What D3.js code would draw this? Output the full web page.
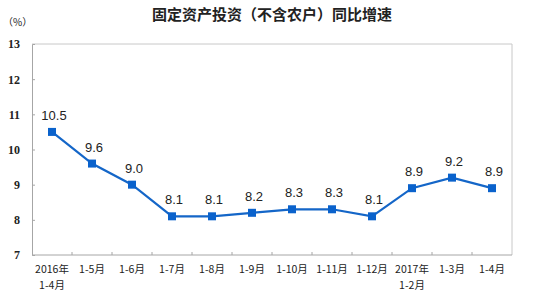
<!DOCTYPE html>
<html>
<head>
<meta charset="utf-8">
<script src="https://cdn.jsdelivr.net/npm/d3@7"></script>
<style>
  body { margin: 0; background: #fff; }
  svg { display: block; }
</style>
</head>
<body>
<div id="chart"></div>
<script>
// chart data
const categories = ['2016年\n1-4月', '1-5月', '1-6月', '1-7月', '1-8月', '1-9月', '1-10月', '1-11月', '1-12月', '2017年\n1-2月', '1-3月', '1-4月'];
const growth = [10.5, 9.6, 9.0, 8.1, 8.1, 8.2, 8.3, 8.3, 8.1, 8.9, 9.2, 8.9];
const yTicks = [7, 8, 9, 10, 11, 12, 13];
const title = '固定资产投资（不含农户）同比增速';

const width = 536, height = 299;
const margin = { top: 44, right: 24, bottom: 44, left: 32 };

const svg = d3.select('#chart')
  .append('svg')
  .attr('width', width)
  .attr('height', height);

const x = d3.scaleBand()
  .domain(categories)
  .range([margin.left, width - margin.right]);

const y = d3.scaleLinear()
  .domain([7, 13])
  .range([height - margin.bottom, margin.top]);

// title and unit
svg.append('text')
  .attr('x', 272).attr('y', 20)
  .attr('text-anchor', 'middle')
  .style('font', 'bold 15px "Noto Sans CJK SC", sans-serif')
  .attr('fill', '#222')
  .text(title);

svg.append('text')
  .attr('x', 3).attr('y', 26)
  .style('font', '10px "Noto Sans CJK SC", sans-serif')
  .attr('fill', '#222')
  .text('（%）');

// plot frame (top and right)
svg.append('path')
  .attr('d', `M${margin.left},${margin.top}H${width - margin.right}V${height - margin.bottom}`)
  .attr('fill', 'none')
  .attr('stroke', '#c8c8c8');

// y axis
const yAxis = svg.append('g')
  .attr('transform', `translate(${margin.left},0)`)
  .call(d3.axisLeft(y).tickValues(yTicks).tickSize(-3).tickPadding(12).tickFormat(d3.format('d')));
yAxis.select('.domain').attr('stroke', '#a6a6a6');
yAxis.selectAll('.tick line').attr('stroke', '#a6a6a6');
yAxis.selectAll('.tick line').filter(d => d === 7 || d === 13).remove();
yAxis.selectAll('text')
  .style('font', 'bold 12px "Liberation Serif", serif')
  .attr('fill', '#222');

// x axis with ticks at band edges
const xAxis = svg.append('g')
  .attr('transform', `translate(0,${height - margin.bottom})`);
xAxis.append('line')
  .attr('x1', margin.left).attr('x2', width - margin.right)
  .attr('stroke', '#a6a6a6');
xAxis.selectAll('line.tk')
  .data(categories.slice(1))
  .enter()
  .append('line')
  .attr('class', 'tk')
  .attr('x1', d => x(d)).attr('x2', d => x(d))
  .attr('y1', 0).attr('y2', -3)
  .attr('stroke', '#a6a6a6');

// each label line is its own text element
const labelLines = categories.flatMap(c =>
  c.split('\n').map((l, i) => ({ cat: c, text: l, row: i })));

xAxis.selectAll('text')
  .data(labelLines)
  .enter()
  .append('text')
  .attr('x', d => x(d.cat) + x.bandwidth() / 2)
  .attr('y', d => 18 + d.row * 16)
  .attr('text-anchor', 'middle')
  .style('font', '10.5px "Noto Sans CJK SC", sans-serif')
  .attr('fill', '#222')
  .text(d => d.text);

// line
const line = d3.line()
  .x((d, i) => x(categories[i]) + x.bandwidth() / 2)
  .y(d => y(d));

svg.append('path')
  .datum(growth)
  .attr('d', line)
  .attr('fill', 'none')
  .attr('stroke', '#1466c8')
  .attr('stroke-width', 2.2);

// markers
const s = 8;
svg.selectAll('rect.pt')
  .data(growth)
  .enter()
  .append('rect')
  .attr('class', 'pt')
  .attr('x', (d, i) => x(categories[i]) + x.bandwidth() / 2 - s / 2)
  .attr('y', d => y(d) - s / 2)
  .attr('width', s)
  .attr('height', s)
  .attr('fill', '#0a62cc');

// value labels
svg.selectAll('text.val')
  .data(growth)
  .enter()
  .append('text')
  .attr('class', 'val')
  .attr('x', (d, i) => x(categories[i]) + x.bandwidth() / 2 + 2)
  .attr('y', d => y(d) - 12)
  .attr('text-anchor', 'middle')
  .style('font', '13px "Liberation Sans", Arial, sans-serif')
  .attr('fill', '#222')
  .text(d => d.toFixed(1));
</script>
</body>
</html>
